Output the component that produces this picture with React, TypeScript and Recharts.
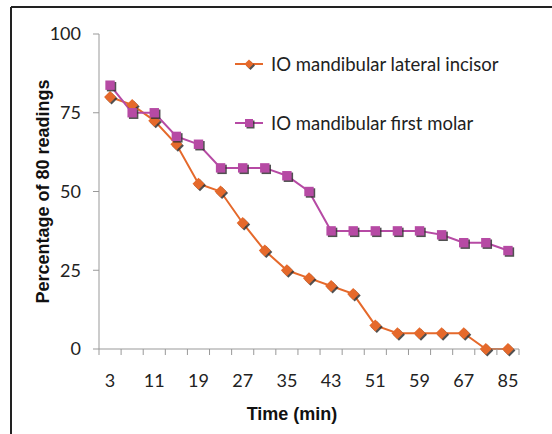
import React from 'react';
import { LineChart, Line, XAxis, YAxis, Legend } from 'recharts';

const times = ['3', '7', '11', '15', '19', '23', '27', '31', '35', '39', '43', '47', '51', '55', '59', '63', '67', '75', '85'];
const incisor = [80, 77.5, 72.5, 65, 52.5, 50, 40, 31.25, 25, 22.5, 20, 17.5, 7.5, 5, 5, 5, 5, 0, 0];
const molar = [83.75, 75, 75, 67.5, 65, 57.5, 57.5, 57.5, 55, 50, 37.5, 37.5, 37.5, 37.5, 37.5, 36.25, 33.75, 33.75, 31.25];
const yTicks = [0, 25, 50, 75, 100];

const SERIES_A = 'IO mandibular lateral incisor';
const SERIES_B = 'IO mandibular first molar';
const ORANGE = '#E5692B';
const PURPLE = '#B64AA4';
const seriesOrder = ['a', 'b'];

const data = times.map((t, i) => ({ t, a: incisor[i], b: molar[i] }));

const W = 552;
const H = 434;
const M = { top: 34, right: 33, bottom: 25, left: 0 };
const Y_W = 99;
const plotW = W - M.left - M.right - Y_W;
const band = plotW / times.length;

const Diamond = ({ cx, cy, color, r = 6 }: any) => (
  <g>
    <path d={`M${cx + 1.5},${cy - r + 1.5} L${cx + r + 1.5},${cy + 1.5} L${cx + 1.5},${cy + r + 1.5} L${cx - r + 1.5},${cy + 1.5} Z`} fill="#333" opacity={0.85} />
    <path d={`M${cx},${cy - r} L${cx + r},${cy} L${cx},${cy + r} L${cx - r},${cy} Z`} fill={color} />
  </g>
);

const Square = ({ cx, cy, color, r = 4.7 }: any) => (
  <g>
    <rect x={cx - r + 1.5} y={cy - r + 1.5} width={2 * r} height={2 * r} fill="#333" opacity={0.85} />
    <rect x={cx - r} y={cy - r} width={2 * r} height={2 * r} fill={color} />
  </g>
);

const XTick = (props: any) => {
  const { x, y, payload, index } = props;
  const axisY = y - 8;
  const left = x - band / 2;
  return (
    <g>
      <line x1={left} x2={left} y1={axisY} y2={axisY + 6} stroke="#999" />
      {index === times.length - 1 && (
        <line x1={x + band / 2} x2={x + band / 2} y1={axisY} y2={axisY + 6} stroke="#999" />
      )}
      {index % 2 === 0 && (
        <text x={x} y={axisY + 31} textAnchor="middle" dominantBaseline="central" fontFamily="Lato" fontSize={18} fill="#222">
          {payload.value}
        </text>
      )}
    </g>
  );
};

const LegendContent = (props: any) => {
  const payload = [...(props.payload || [])].sort(
    (p: any, q: any) => seriesOrder.indexOf(p.dataKey) - seriesOrder.indexOf(q.dataKey)
  );
  return (
    <div>
      {payload.map((p: any, i: number) => (
        <div key={i} style={{ display: 'flex', alignItems: 'center', height: 59 }}>
          <svg width={36} height={14} style={{ overflow: 'visible' }}>
            <line x1={0} x2={28} y1={7} y2={7} stroke={p.color} strokeWidth={2} />
            {p.dataKey === 'a' ? <Diamond cx={14} cy={7} color={p.color} r={4.5} /> : <Square cx={14} cy={7} color={p.color} r={4} />}
          </svg>
          <span style={{ fontFamily: 'Lato', fontSize: 18.5, color: '#222', whiteSpace: 'nowrap' }}>{p.value}</span>
        </div>
      ))}
    </div>
  );
};

export default function App() {
  return (
    <div style={{ position: 'absolute', left: 0, top: 0, width: W, height: H, background: '#fff' }}>
      <svg width={W} height={H} style={{ position: 'absolute', left: 0, top: 0 }}>
        <line x1={11} x2={W + 5} y1={7} y2={7} stroke="#222" strokeWidth={2} />
        <line x1={11} x2={11} y1={7} y2={H + 5} stroke="#222" strokeWidth={2} />
      </svg>
      <div style={{ position: 'absolute', left: 0, top: 0 }}>
        <LineChart width={W} height={H} data={data} margin={M}>
          <XAxis
            dataKey="t"
            interval={0}
            padding={{ left: band / 2, right: band / 2 }}
            axisLine={{ stroke: '#999' }}
            tickLine={{ stroke: 'none' }}
            tickSize={6}
            tickMargin={2}
            tick={<XTick />}
            height={60}
            label={{ value: 'Time (min)', position: 'insideBottom', offset: -11, dx: -17, fontFamily: 'Liberation Sans', fontWeight: 'bold', fontSize: 18, fill: '#111' }}
          />
          <YAxis
            width={Y_W}
            domain={[0, 100]}
            ticks={yTicks}
            axisLine={{ stroke: '#999' }}
            tickLine={{ stroke: '#999' }}
            tickSize={6}
            tickMargin={12}
            tick={{ fontFamily: 'Lato', fontSize: 18, fill: '#222' }}
            label={{ value: 'Percentage of 80 readings', angle: -90, position: 'insideLeft', offset: 43, dy: 112, fontFamily: 'Liberation Sans', fontWeight: 'bold', fontSize: 18, fill: '#111' }}
          />
          <Legend
            layout="vertical"
            verticalAlign="middle"
            align="center"
            content={<LegendContent />}
            wrapperStyle={{ position: 'absolute', left: 235, top: 34, width: 310 }}
          />
          <Line
            name={SERIES_A}
            dataKey="a"
            stroke={ORANGE}
            strokeWidth={2}
            isAnimationActive={false}
            dot={(p: any) => <Diamond key={`a${p.index}`} cx={p.cx} cy={p.cy} color={ORANGE} />}
          />
          <Line
            name={SERIES_B}
            dataKey="b"
            stroke={PURPLE}
            strokeWidth={2}
            isAnimationActive={false}
            dot={(p: any) => <Square key={`b${p.index}`} cx={p.cx} cy={p.cy} color={PURPLE} />}
          />
        </LineChart>
      </div>
    </div>
  );
}
